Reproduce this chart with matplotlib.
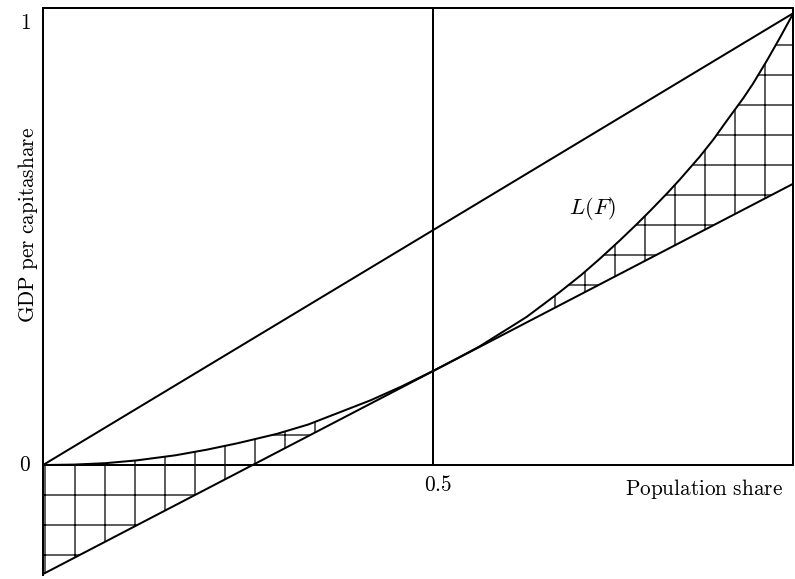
import numpy as np
import matplotlib.pyplot as plt

plt.rcParams["mathtext.fontset"] = "cm"
plt.rcParams["hatch.linewidth"] = 0.5

# Lorenz curve L(F)
share_x = [0.0, 0.04, 0.08, 0.12, 0.17, 0.21, 0.25, 0.30, 0.34, 0.36, 0.42, 0.46,
           0.50, 0.53, 0.56, 0.58, 0.603, 0.62, 0.64, 0.663, 0.69, 0.714, 0.740,
           0.76, 0.778, 0.80, 0.817, 0.842, 0.86, 0.874, 0.898, 0.91, 0.928,
           0.945, 0.962]
share_y = [0.0, 0.001, 0.004, 0.010, 0.021, 0.033, 0.047, 0.067, 0.087, 0.100, 0.139, 0.169,
           0.202, 0.228, 0.255, 0.276, 0.300, 0.318, 0.343, 0.372, 0.408, 0.443, 0.483,
           0.515, 0.545, 0.583, 0.614, 0.662, 0.700, 0.733, 0.788, 0.818, 0.868,
           0.918, 0.970]

# straight lines: equality line and tangent at 0.5
diag_x = [0.0, 0.962]
diag_y = [0.0, 0.970]
tang_x = [0.0, 0.962]
tang_y = [-0.234, 0.604]

mid_x = 0.5
hatch_lo = 0.36
hatch_hi = 0.64

share_x = np.array(share_x)
share_y = np.array(share_y)
tang_at = np.interp(share_x, tang_x, tang_y)

fig = plt.figure(figsize=(795 / 180, 579 / 180), dpi=180)
ax = fig.add_axes([43 / 795, 4 / 579, 750 / 795, 567 / 579])
ax.set_xlim(0, 0.9615)
ax.set_ylim(-0.236, 0.981)

lw = 0.8
ax.plot(share_x, share_y, color="black", lw=lw)
ax.plot(diag_x, diag_y, color="black", lw=lw)
ax.plot(tang_x, tang_y, color="black", lw=lw)
ax.plot([mid_x, mid_x], [0, 0.981], color="black", lw=lw)
ax.axhline(0, color="black", lw=lw)

m = share_x <= hatch_lo
ax.fill_between(share_x[m], tang_at[m], share_y[m], facecolor="none",
                edgecolor="black", hatch="+", linewidth=0)
m = share_x >= hatch_hi
ax.fill_between(share_x[m], tang_at[m], share_y[m], facecolor="none",
                edgecolor="black", hatch="+", linewidth=0)

ax.spines["bottom"].set_visible(False)
ax.spines["right"].set_bounds(0, 0.981)
for s in ["left", "top", "right"]:
    ax.spines[s].set_linewidth(lw)
ax.set_xticks([])
ax.set_yticks([])

fs = 8.5
ax.text(-0.016, 0.0, r"$0$", ha="right", va="center", fontsize=fs)
ax.text(-0.016, 0.948, r"$1$", ha="right", va="center", fontsize=fs)
ax.text(0.506, -0.043, r"$0.5$", ha="center", va="center", fontsize=fs)
ax.text(0.948, -0.052, r"$\mathrm{Population\ share}$", ha="right", va="center", fontsize=fs)
ax.text(-0.019, 0.515, r"$\mathrm{GDP\ per\ capitashare}$", ha="center", va="center",
        rotation=90, fontsize=fs)
ax.text(0.704, 0.55, r"$L(F)$", ha="center", va="center", fontsize=9)

fig.savefig("out.png", dpi=180)
